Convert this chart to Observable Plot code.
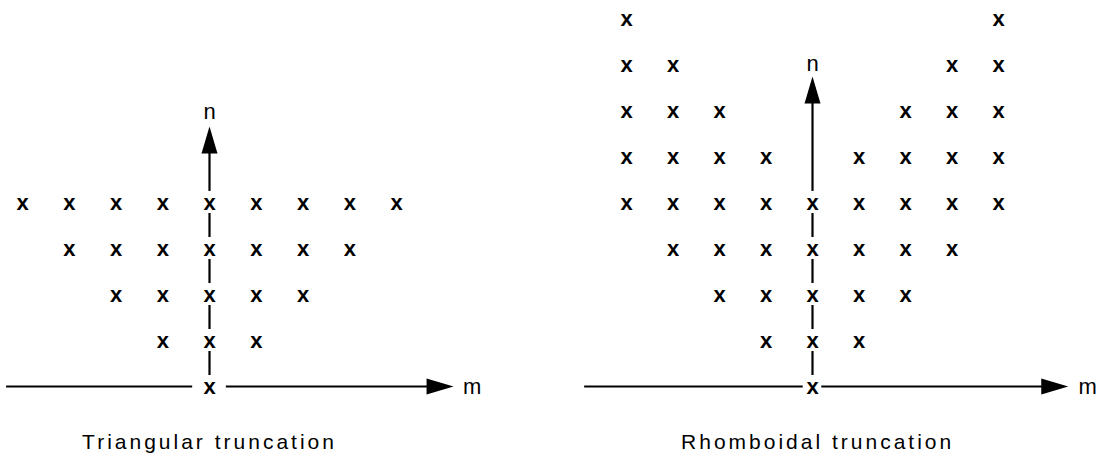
<!DOCTYPE html>
<html><head><meta charset="utf-8">
<script src="https://cdn.jsdelivr.net/npm/d3@7"></script>
<script src="https://cdn.jsdelivr.net/npm/@observablehq/plot@0.6"></script>
<style>
html,body{margin:0;padding:0;background:#fff;}
#chart{display:flex;width:1100px;height:460px;}
</style></head><body><div id="chart"></div>
<script>
// ---- data: (m, n) wavenumber pairs kept in each truncation ----
const triangularPoints = [
  [-4,4],[-3,4],[-2,4],[-1,4],[0,4],[1,4],[2,4],[3,4],[4,4],
  [-3,3],[-2,3],[-1,3],[0,3],[1,3],[2,3],[3,3],
  [-2,2],[-1,2],[0,2],[1,2],[2,2],
  [-1,1],[0,1],[1,1],
  [0,0]
];
const rhomboidalPoints = [
  [-4,4],[-4,5],[-4,6],[-4,7],[-4,8],
  [-3,3],[-3,4],[-3,5],[-3,6],[-3,7],
  [-2,2],[-2,3],[-2,4],[-2,5],[-2,6],
  [-1,1],[-1,2],[-1,3],[-1,4],[-1,5],
  [0,0],[0,1],[0,2],[0,3],[0,4],
  [1,1],[1,2],[1,3],[1,4],[1,5],
  [2,2],[2,3],[2,4],[2,5],[2,6],
  [3,3],[3,4],[3,5],[3,6],[3,7],
  [4,4],[4,5],[4,6],[4,7],[4,8]
];
const panelNames = ["Triangular truncation", "Rhomboidal truncation"];
const panelPoints = [triangularPoints, rhomboidalPoints];
const mAxisStart = [-4.34, -4.9];
const mAxisTip = [5.22, 5.5];
const mLabelAt = [5.42, 5.72];
const originGap = [0.36, 0.2];
const nDashedTop = [4, 4];
const nAxisTip = [5.65, 6.74];
const nLabelAt = [5.96, 7.02];
const captionM = [0, 0.11];
const captionN = [-1.22, -1.22];
const axisLabels = ["m", "n"];

// ---- layout ----
const xRanges = [[22, 396], [76, 448]];
const font = "Liberation Sans, Arial, Helvetica, sans-serif";

// filled arrowhead pointing up, tip at origin
const arrowHead = {
  draw(context) {
    context.moveTo(0, 0);
    context.lineTo(-8, 27);
    context.lineTo(8, 27);
    context.closePath();
  }
};

const chart = document.getElementById("chart");
panelNames.forEach((name, i) => {
  const pts = panelPoints[i].map(([m, n]) => ({m, n}));
  const plot = Plot.plot({
    width: 550,
    height: 460,
    margin: 0,
    style: {fontFamily: font, background: "#fff", color: "#000"},
    x: {domain: [-4, 4], range: xRanges[i], axis: null},
    y: {domain: [0, 8], range: [386, 18], axis: null},
    marks: [
      // m axis (two segments with a gap at the origin)
      Plot.ruleY([{x1: mAxisStart[i], x2: -originGap[i]}, {x1: originGap[i], x2: mAxisTip[i] - 0.3}],
        {y: 0, x1: "x1", x2: "x2", stroke: "#000", strokeWidth: 2}),
      Plot.dot([{m: mAxisTip[i], n: 0}], {x: "m", y: "n", symbol: arrowHead, rotate: 90, fill: "#000", stroke: "none"}),
      Plot.text([axisLabels[0]], {x: mLabelAt[i], y: 0, text: d => d, textAnchor: "start", fontSize: 22}),
      // n axis: dashed between points, solid above
      Plot.ruleX([{y1: 0, y2: nDashedTop[i]}], {x: 0, y1: "y1", y2: "y2", stroke: "#000", strokeWidth: 2.2, strokeDasharray: "0 11 24 11"}),
      Plot.ruleX([{y1: nDashedTop[i] + 0.24, y2: nAxisTip[i] - 0.3}], {x: 0, y1: "y1", y2: "y2", stroke: "#000", strokeWidth: 2.2}),
      Plot.dot([{m: 0, n: nAxisTip[i]}], {x: "m", y: "n", symbol: arrowHead, fill: "#000", stroke: "none"}),
      Plot.text([axisLabels[1]], {x: 0, y: nLabelAt[i], text: d => d, fontSize: 22}),
      // retained wavenumbers
      Plot.text(pts, {x: "m", y: "n", text: () => "x", fontSize: 22, fontWeight: "bold"}),
      // caption
      Plot.text([name], {x: captionM[i], y: captionN[i], text: d => d, fontSize: 21, ariaDescription: "caption"})
    ]
  });
  d3.select(plot).selectAll("text")
    .filter(function() { return this.textContent === name; })
    .style("letter-spacing", "3px");
  chart.appendChild(plot);
});
</script>
</body></html>
